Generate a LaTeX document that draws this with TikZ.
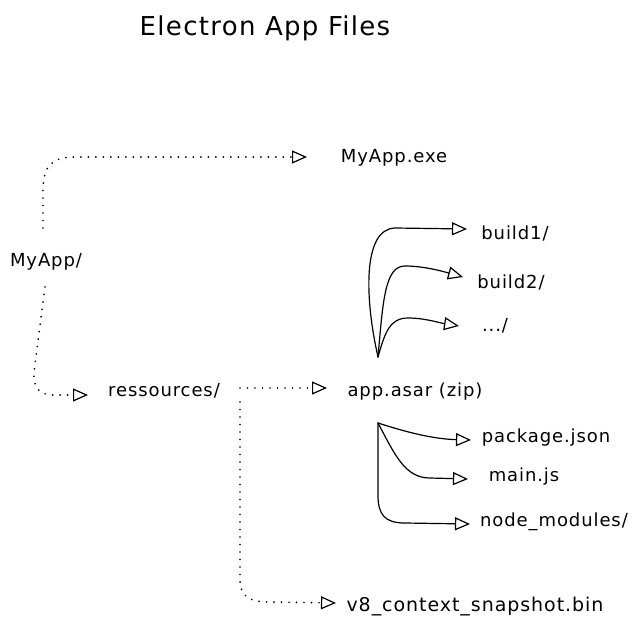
\documentclass[tikz,border=0pt]{standalone}
\usepackage{fontspec}
\setmainfont[LetterSpace=5]{DejaVu Sans}
\usetikzlibrary{arrows.meta}
\begin{document}
\begin{tikzpicture}[x=1pt,y=-1pt,
  lbl/.style={font=\fontsize{18}{20}\selectfont, anchor=base, inner sep=0pt},
  ttl/.style={font=\fontsize{26}{30}\selectfont, anchor=base, inner sep=0pt},
  tip/.style={-{Triangle[open,length=15pt,width=13pt,line width=1.2pt]}},
  dotline/.style={tip, line width=1.9pt, dash pattern=on 0pt off 7.5pt, line cap=round},
  solline/.style={tip, line width=1.2pt, line cap=round}
]
\fill[white] (0,0) rectangle (636,626);
\useasboundingbox (0,0) rectangle (636,626);

% texts
\node[ttl] (title) at (265,36) {Electron App Files};
\node[lbl] (exe) at (394,162) {MyApp.exe};
\node[lbl] (myapp) at (46,266) {MyApp/};
\node[lbl] (res) at (164,396) {ressources/};
\node[lbl] (asar) at (415,396) {app.asar (zip)};
\node[lbl] (b1) at (515,239) {build1/};
\node[lbl] (b2) at (511,288) {build2/};
\node[lbl] (more) at (495,331) {.../};
\node[lbl] (pkg) at (546,442) {package.json};
\node[lbl] (mainjs) at (524,481) {main.js};
\node[lbl] (nm) at (554,526) {node\_modules/};
\node[lbl, font=\fontsize{19}{21}\selectfont] (v8) at (475,611) {v8\_context\_snapshot.bin};

% connector ends
\coordinate (myappN) at (43,228);
\coordinate (myappS) at (45,287);
\coordinate (exeIn) at (307,157);
\coordinate (resIn) at (88,395);
\coordinate (resOutA) at (240,388);
\coordinate (resOutB) at (240,402);
\coordinate (asarIn) at (327,388);
\coordinate (v8In) at (336,603);
\coordinate (asarN) at (378,357);
\coordinate (asarS) at (378,423);
\coordinate (b1In) at (467,229);
\coordinate (b2In) at (463,277);
\coordinate (moreIn) at (459,326);
\coordinate (pkgIn) at (471,440);
\coordinate (mainIn) at (468,479);
\coordinate (nmIn) at (470,524);

% dotted connectors
\draw[dotline] (myappN) -- (43,190) .. controls (43,165) and (53,157) .. (75,157) -- (exeIn);
\draw[dotline] (myappS) -- (34,372) .. controls (33,389) and (40,395) .. (55,395) -- (resIn);
\draw[dotline] (resOutA) -- (asarIn);
\draw[dotline] (resOutB) -- (240,580) .. controls (240,597) and (250,602) .. (270,602) -- (v8In);

% solid connectors
\draw[solline] (asarN) .. controls (365,300) and (362,229) .. (395,228) -- (b1In);
\draw[solline] (asarN) .. controls (383,300) and (385,266) .. (405,266) .. controls (425,266) and (445,272) .. (b2In);
\draw[solline] (asarN) .. controls (385,332) and (390,318) .. (408,318) .. controls (425,318) and (440,323) .. (moreIn);
\draw[solline] (asarS) .. controls (400,430) and (430,439) .. (pkgIn);
\draw[solline] (asarS) .. controls (395,455) and (405,478) .. (430,478) -- (mainIn);
\draw[solline] (asarS) -- (378,495) .. controls (378,515) and (385,523) .. (405,523) -- (nmIn);
\end{tikzpicture}
\end{document}
